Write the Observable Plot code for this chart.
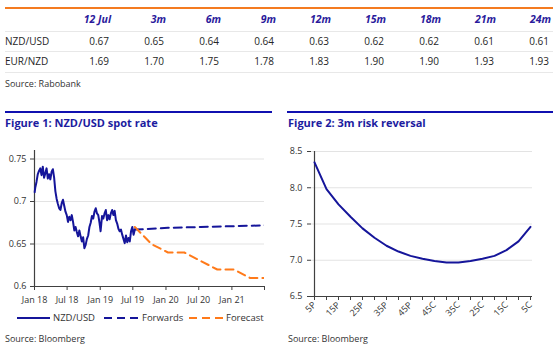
<!DOCTYPE html>
<html><head><meta charset="utf-8">
<script src="https://cdn.jsdelivr.net/npm/d3@7"></script>
<script src="https://cdn.jsdelivr.net/npm/@observablehq/plot@0.6"></script>
<style>
html,body{margin:0;padding:0;background:#fff}
body{width:558px;height:356px;position:relative;overflow:hidden;font-family:"Open Sans",sans-serif;color:#333}
.a{position:absolute;white-space:nowrap;line-height:1}
.hdr{font-weight:bold;font-style:italic;color:#2a1a9c;font-size:10.5px;text-align:right}
.val{font-size:10px;color:#262626;text-align:right}
.lab{font-size:10px;color:#262626}
.src{font-size:9px;color:#333}
.title{font-size:11px;font-weight:bold;color:#1c1ca0}
.leg{font-size:9.5px;color:#333}
</style></head><body>
<script>
// ---- table data ----
const horizons = ["12 Jul","3m","6m","9m","12m","15m","18m","21m","24m"];
const rowNames = ["NZD/USD","EUR/NZD"];
const nzdusdForecast = [0.67,0.65,0.64,0.64,0.63,0.62,0.62,0.61,0.61];
const eurnzdForecast = [1.69,1.70,1.75,1.78,1.83,1.90,1.90,1.93,1.93];
const forecastDates = ["2019-07-12","2019-10-12","2020-01-12","2020-04-12","2020-07-12","2020-10-12","2021-01-12","2021-04-12","2021-07-12"];

// ---- Figure 1: NZD/USD spot ----
const spotDates = ["2018-01-02","2018-01-05","2018-01-12","2018-01-19","2018-01-26","2018-02-02","2018-02-09","2018-02-16","2018-02-23","2018-03-02","2018-03-09","2018-03-16","2018-03-23","2018-03-30","2018-04-06","2018-04-13","2018-04-20","2018-04-27","2018-05-04","2018-05-11","2018-05-18","2018-05-25","2018-06-01","2018-06-08","2018-06-15","2018-06-22","2018-06-29","2018-07-06","2018-07-13","2018-07-20","2018-07-27","2018-08-03","2018-08-10","2018-08-17","2018-08-24","2018-08-31","2018-09-07","2018-09-14","2018-09-21","2018-09-28","2018-10-05","2018-10-12","2018-10-19","2018-10-26","2018-11-02","2018-11-09","2018-11-16","2018-11-23","2018-11-30","2018-12-07","2018-12-14","2018-12-21","2018-12-28","2019-01-03","2019-01-11","2019-01-18","2019-01-25","2019-02-01","2019-02-08","2019-02-15","2019-02-22","2019-03-01","2019-03-08","2019-03-15","2019-03-22","2019-03-29","2019-04-05","2019-04-12","2019-04-19","2019-04-26","2019-05-03","2019-05-10","2019-05-17","2019-05-24","2019-05-31","2019-06-07","2019-06-14","2019-06-21","2019-06-28","2019-07-05","2019-07-12"];
const spotValues = [0.711,0.716,0.723,0.732,0.736,0.739,0.731,0.741,0.728,0.733,0.739,0.727,0.732,0.726,0.735,0.738,0.728,0.712,0.703,0.697,0.692,0.690,0.698,0.702,0.695,0.688,0.684,0.676,0.682,0.678,0.684,0.676,0.666,0.670,0.664,0.659,0.666,0.659,0.653,0.658,0.645,0.649,0.656,0.660,0.670,0.675,0.683,0.680,0.688,0.692,0.686,0.684,0.675,0.665,0.683,0.680,0.686,0.690,0.678,0.684,0.679,0.686,0.690,0.684,0.689,0.678,0.674,0.668,0.665,0.667,0.661,0.656,0.651,0.660,0.652,0.657,0.653,0.665,0.670,0.661,0.667];
const forwardDates = ["2019-07-12","2020-01-12","2020-07-12","2021-01-12","2021-07-12"];
const forwardValues = [0.667,0.669,0.670,0.671,0.672];
const fig1YTicks = [0.6,0.65,0.7,0.75];
const fig1XTickDates = ["2018-01-01","2018-07-01","2019-01-01","2019-07-01","2020-01-01","2020-07-01","2021-01-01","2021-07-01"];
const fig1XTickLabels = ["Jan 18","Jul 18","Jan 19","Jul 19","Jan 20","Jul 20","Jan 21",""];
const seriesNames = ["NZD/USD","Forwards","Forecast"];

// ---- Figure 2: 3m risk reversal ----
const rrCategories = ["5P","10P","15P","20P","25P","30P","35P","40P","45P","ATM","45C","40C","35C","30C","25C","20C","15C","10C","5C"];
const rrValues = [8.35,7.98,7.77,7.60,7.44,7.31,7.20,7.12,7.06,7.02,6.99,6.97,6.97,6.99,7.02,7.06,7.14,7.26,7.46];
const rrTickLabels = ["5P","15P","25P","35P","45P","45C","35C","25C","15C","5C"];
const fig2YTicks = [6.5,7.0,7.5,8.0,8.5];

const NAVY = "#15159a", ORANGE = "#ff7a1a", AXIS = "#404040", GRID = "#e3e3e3";

function el(cls, text, css){
  const d = document.createElement("div");
  d.className = "a " + cls; d.textContent = text; Object.assign(d.style, css);
  document.body.appendChild(d); return d;
}
function rule(x,y,w,h,color){
  const d = document.createElement("div");
  d.className = "a"; Object.assign(d.style,{left:x+"px",top:y+"px",width:w+"px",height:h+"px",background:color});
  document.body.appendChild(d);
}

// ---- Table ----
rule(5,7,548,2,"#f47b20");
rule(5,31,548,1,"#e8e8e8");
rule(5,51,548,1,"#e8e8e8");
rule(5,72,548,1,"#e8e8e8");
horizons.forEach((h,i)=>{
  el("hdr", h, {right:(558-(111+55*i))+"px", top:"14px"});
  el("val", nzdusdForecast[i].toFixed(2), {right:(558-(109+55*i))+"px", top:"36px"});
  el("val", eurnzdForecast[i].toFixed(2), {right:(558-(109+55*i))+"px", top:"56px"});
});
el("lab", rowNames[0], {left:"5px", top:"36px"});
el("lab", rowNames[1], {left:"5px", top:"56px"});
el("src", "Source: Rabobank", {left:"5px", top:"79px"});

// ---- Titles ----
rule(5,111,267,2,"#1010b0");
rule(287,111,266,2,"#1010b0");
el("title","Figure 1: NZD/USD spot rate",{left:"5px",top:"117px"});
el("title","Figure 2: 3m risk reversal",{left:"288px",top:"117px"});

// ---- Figure 1 ----
const spot = spotDates.map((d,i)=>({date:new Date(d), v:spotValues[i]}));
const fwd = forwardDates.map((d,i)=>({date:new Date(d), v:forwardValues[i]}));
const fc = forecastDates.map((d,i)=>({date:new Date(d), v:nzdusdForecast[i]}));
const xStart = new Date(fig1XTickDates[0]), xEnd = new Date(fig1XTickDates[fig1XTickDates.length-1]);
const tickLab = new Map(fig1XTickDates.map((d,i)=>[new Date(d).getTime(), fig1XTickLabels[i]]));

const p1 = Plot.plot({
  width:280, height:170, marginTop:10, marginBottom:24, marginLeft:34, marginRight:16,
  style:{fontFamily:"'Open Sans',sans-serif", fontSize:"9px", color:AXIS, background:"transparent", overflow:"visible"},
  x:{type:"utc", domain:[xStart,xEnd]},
  y:{domain:[0.6,0.76]},
  marks:[
    Plot.gridY(fig1YTicks.slice(1), {stroke:GRID, strokeOpacity:1}),
    Plot.axisY({ticks:fig1YTicks, tickSize:4, tickPadding:4, tickFormat:d=>String(d), label:null, fill:"#333"}),
    Plot.axisX({ticks:fig1XTickDates.map(d=>new Date(d)), tickSize:4, tickPadding:6, tickFormat:d=>tickLab.get(d.getTime()) ?? "", label:null, fill:"#333"}),
    Plot.ruleX([xStart], {stroke:AXIS, strokeWidth:1.2}),
    Plot.ruleY([0.6], {stroke:AXIS, strokeWidth:1.2}),
    Plot.line(fwd, {x:"date", y:"v", stroke:NAVY, strokeWidth:2, strokeDasharray:"8,5", clip:true}),
    Plot.line(fc, {x:"date", y:"v", stroke:ORANGE, strokeWidth:2, strokeDasharray:"8,5", clip:true}),
    Plot.line(spot, {x:"date", y:"v", stroke:NAVY, strokeWidth:2})
  ]
});
Object.assign(p1.style,{position:"absolute",left:"0px",top:"140px"});
document.body.appendChild(p1);

// Legend for figure 1
function legendItem(x, w, color, dash, label, tx){
  const ns="http://www.w3.org/2000/svg";
  const s=document.createElementNS(ns,"svg");
  s.setAttribute("width",w); s.setAttribute("height",4);
  Object.assign(s.style,{position:"absolute",left:x+"px",top:"316px"});
  const l=document.createElementNS(ns,"line");
  l.setAttribute("x1",0);l.setAttribute("x2",w);l.setAttribute("y1",2);l.setAttribute("y2",2);
  l.setAttribute("stroke",color);l.setAttribute("stroke-width",2);
  if(dash) l.setAttribute("stroke-dasharray",dash);
  s.appendChild(l); document.body.appendChild(s);
  el("leg", label, {left:tx+"px", top:"313px"});
}
legendItem(17,33,NAVY,null,seriesNames[0],53);
legendItem(104,34,NAVY,"8,5",seriesNames[1],142);
legendItem(189,34,ORANGE,"8,5",seriesNames[2],226);
el("src","Source: Bloomberg",{left:"5px",top:"334px"});

// ---- Figure 2 ----
const rr = rrCategories.map((c,i)=>({c, v:rrValues[i]}));
const p2 = Plot.plot({
  width:278, height:200, marginTop:11, marginBottom:44, marginLeft:31, marginRight:26,
  style:{fontFamily:"'Open Sans',sans-serif", fontSize:"9px", color:AXIS, background:"transparent", overflow:"visible"},
  x:{type:"point", domain:rrCategories, padding:0},
  y:{domain:[6.5,8.5]},
  marks:[
    Plot.gridY(fig2YTicks.slice(1), {stroke:GRID, strokeOpacity:1}),
    Plot.axisY({ticks:fig2YTicks, tickSize:4, tickPadding:5, tickFormat:d=>d.toFixed(1), label:null, fill:"#333"}),
    Plot.axisX({tickSize:4, tickPadding:3, tickRotate:-45, tickFormat:d=>rrTickLabels.includes(d)?d:"", label:null, fill:"#333"}),
    Plot.ruleX([rrCategories[0]], {stroke:AXIS, strokeWidth:1.2}),
    Plot.ruleY([6.5], {stroke:AXIS, strokeWidth:1.2}),
    Plot.line(rr, {x:"c", y:"v", stroke:NAVY, strokeWidth:2})
  ]
});
Object.assign(p2.style,{position:"absolute",left:"280px",top:"140px"});
document.body.appendChild(p2);
el("src","Source: Bloomberg",{left:"288px",top:"334px"});
</script>
</body></html>
